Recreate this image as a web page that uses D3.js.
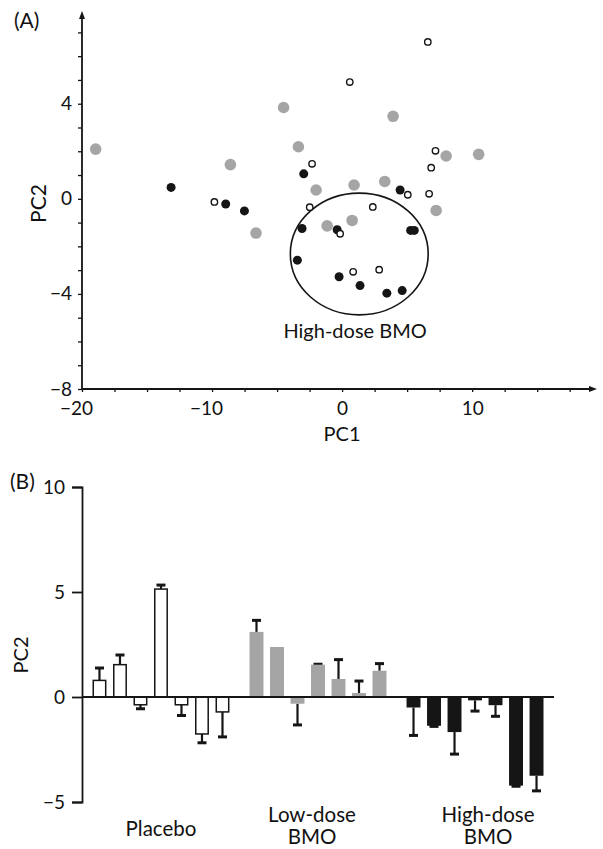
<!DOCTYPE html>
<html><head><meta charset="utf-8">
<script src="https://cdn.jsdelivr.net/npm/d3@7"></script>
<style>
body{margin:0;background:#fff}
svg{display:block}
text{font-family:Lato,"Open Sans",sans-serif;fill:#111}
</style>
</head><body>
<svg id="c" width="603" height="849"></svg>
<script>
// ---------- Panel A data (PCA scores) ----------
const placeboPC1 = [6.59, 0.59, -2.31, 5.05, 7.18, 6.85, 6.69, -2.49, 2.36, -0.15, 0.85, 2.85, -9.82];
const placeboPC2 = [6.6, 4.91, 1.47, 0.17, 2.02, 1.31, 0.21, -0.35, -0.34, -1.47, -3.07, -2.98, -0.13];
const lowPC1 = [-18.95, -8.59, -6.62, -4.5, 3.92, -3.36, -2.0, 0.92, 3.28, 8.0, 10.5, 7.23, -1.15, 0.77];
const lowPC2 = [2.09, 1.44, -1.44, 3.84, 3.47, 2.19, 0.37, 0.58, 0.73, 1.8, 1.87, -0.49, -1.14, -0.91];
const highPC1 = [-13.15, -8.95, -7.51, -2.95, 4.46, -3.08, -0.38, 5.27, 5.55, -3.44, -0.23, 1.38, 3.44, 4.62];
const highPC2 = [0.48, -0.22, -0.51, 1.05, 0.37, -1.25, -1.3, -1.33, -1.33, -2.58, -3.28, -3.65, -3.97, -3.86];
const ellipseCenter = [1.32, -2.32];
const ellipseRadii = [5.3, 2.56];
const xTicksA = [-20, -10, 0, 10];
const yTicksA = [-8, -4, 0, 4];

// ---------- Panel B data (PC2 per subject) ----------
const groups = ["Placebo", "Low-dose BMO", "High-dose BMO"];
const placeboBars = [0.79, 1.54, -0.37, 5.14, -0.37, -1.76, -0.71];
const placeboErr  = [0.59, 0.46, 0.19, 0.19, 0.51, 0.42, 1.19];
const lowBars = [3.1, 2.38, -0.32, 1.54, 0.86, 0.19, 1.25];
const lowErr  = [0.55, 0, 1.01, 0.02, 0.92, 0.57, 0.34];
const highBars = [-0.5, -1.37, -1.67, -0.16, -0.39, -4.22, -3.75];
const highErr  = [1.33, 0.03, 1.05, 0.51, 0.53, 0.03, 0.72];
const yTicksB = [-5, 0, 5, 10];

const INK = "#151515", GRAY = "#a5a5a5";
const svg = d3.select("#c");
const fmt = d3.format("");

// ================= Panel A =================
const xA = d3.scaleLinear().domain([-20, 19.6]).range([82, 597]);
const yA = d3.scaleLinear().domain([-8, 7.9]).range([389, 11]);
const gA = svg.append("g");

// axes
const xAxA = d3.axisBottom(xA).tickValues(d3.range(-20, 18, 2.5)).tickSize(3).tickPadding(10)
  .tickFormat(d => xTicksA.includes(d) ? fmt(d) : "");
const gx = gA.append("g").attr("transform", `translate(0,${yA(-8)})`).call(xAxA);
gx.select(".domain").remove();
gx.selectAll("line").attr("stroke", INK).attr("stroke-width", 1.3);
gx.selectAll("text").attr("font-size", 19).attr("fill", INK).attr("dx", d => d < 0 ? -6 : 0);

const yAxA = d3.axisLeft(yA).tickValues(d3.range(-8, 8)).tickSize(4).tickPadding(6)
  .tickFormat(d => yTicksA.includes(d) ? fmt(d) : "");
const gy = gA.append("g").attr("transform", `translate(${xA(-20)},0)`).call(yAxA);
gy.select(".domain").remove();
gy.selectAll("line").attr("stroke", INK).attr("stroke-width", 1.3);
gy.selectAll("text").attr("font-size", 19).attr("fill", INK);

// axis lines with arrowheads
gA.append("line").attr("x1", xA(-20)).attr("x2", xA(19.6) - 4).attr("y1", yA(-8)).attr("y2", yA(-8))
  .attr("stroke", INK).attr("stroke-width", 1.8);
gA.append("path").attr("d", `M${xA(19.6)},${yA(-8)} l-8,-3 l0,6 z`).attr("fill", INK);
gA.append("line").attr("x1", xA(-20)).attr("x2", xA(-20)).attr("y1", yA(-8)).attr("y2", yA(7.9) + 4)
  .attr("stroke", INK).attr("stroke-width", 1.8);
gA.append("path").attr("d", `M${xA(-20)},${yA(7.9)} l-3,8 l6,0 z`).attr("fill", INK);

// ellipse
gA.append("ellipse")
  .attr("cx", xA(ellipseCenter[0])).attr("cy", yA(ellipseCenter[1]))
  .attr("rx", xA(ellipseRadii[0]) - xA(0)).attr("ry", yA(0) - yA(ellipseRadii[1]))
  .attr("fill", "none").attr("stroke", INK).attr("stroke-width", 1.6);
gA.append("text").attr("x", xA(1.0)).attr("y", yA(-5.85)).attr("text-anchor", "middle")
  .attr("font-size", 20).text("High-dose BMO");

// points
gA.append("g").selectAll("circle").data(d3.zip(lowPC1, lowPC2)).join("circle")
  .attr("cx", d => xA(d[0])).attr("cy", d => yA(d[1])).attr("r", 5.8).attr("fill", GRAY);
gA.append("g").selectAll("circle").data(d3.zip(highPC1, highPC2)).join("circle")
  .attr("cx", d => xA(d[0])).attr("cy", d => yA(d[1])).attr("r", 4.5).attr("fill", INK);
gA.append("g").selectAll("circle").data(d3.zip(placeboPC1, placeboPC2)).join("circle")
  .attr("cx", d => xA(d[0])).attr("cy", d => yA(d[1])).attr("r", 3.2)
  .attr("fill", "#fff").attr("stroke", INK).attr("stroke-width", 1.4);

// labels
gA.append("text").attr("x", 14).attr("y", 28).attr("font-size", 21).text("(A)");
gA.append("text").attr("transform", `translate(46,${yA(-0.2)}) rotate(-90)`).attr("text-anchor", "middle")
  .attr("font-size", 21).text("PC2");
gA.append("text").attr("x", xA(0)).attr("y", 441).attr("text-anchor", "middle")
  .attr("font-size", 20).text("PC1");

// ================= Panel B =================
const yB = d3.scaleLinear().domain([-5, 10]).range([802, 487]);
const x0 = d3.scaleBand().domain(groups).range([82, 554]).paddingInner(0.086).paddingOuter(0.046);
const x1 = d3.scaleBand().domain(d3.range(7)).range([0, x0.bandwidth()]).paddingInner(0.32).paddingOuter(0.16);
const gB = svg.append("g");

const yAxB = d3.axisLeft(yB).tickValues(yTicksB).tickSize(10).tickPadding(7).tickFormat(fmt);
const gyB = gB.append("g").attr("transform", `translate(82,0)`).call(yAxB);
gyB.select(".domain").attr("stroke", INK).attr("stroke-width", 1.8);
gyB.selectAll("line").attr("stroke", INK).attr("stroke-width", 1.8);
gyB.selectAll("text").attr("font-size", 19).attr("fill", INK);

const series = [
  {g: groups[0], vals: placeboBars, err: placeboErr, fill: "#fff", stroke: INK},
  {g: groups[1], vals: lowBars, err: lowErr, fill: GRAY, stroke: "none"},
  {g: groups[2], vals: highBars, err: highErr, fill: INK, stroke: "none"}
];
series.forEach(s => {
  const gg = gB.append("g").attr("transform", `translate(${x0(s.g)},0)`);
  const data = s.vals.map((v, i) => ({i, v, e: s.err[i]}));
  // error bars
  const eb = gg.append("g").selectAll("g").data(data).join("g");
  eb.append("line")
    .attr("x1", d => x1(d.i) + x1.bandwidth() / 2).attr("x2", d => x1(d.i) + x1.bandwidth() / 2)
    .attr("y1", d => yB(d.v)).attr("y2", d => yB(d.v + Math.sign(d.v) * d.e))
    .attr("stroke", INK).attr("stroke-width", 2.2);
  eb.filter(d => d.e > 0).append("line")
    .attr("x1", d => x1(d.i) + x1.bandwidth() / 2 - 4.5).attr("x2", d => x1(d.i) + x1.bandwidth() / 2 + 4.5)
    .attr("y1", d => yB(d.v + Math.sign(d.v) * d.e)).attr("y2", d => yB(d.v + Math.sign(d.v) * d.e))
    .attr("stroke", INK).attr("stroke-width", 3);
  // bars
  gg.append("g").selectAll("rect").data(data).join("rect")
    .attr("x", d => x1(d.i) + (s.stroke === "none" ? 0 : 0.75))
    .attr("width", x1.bandwidth() - (s.stroke === "none" ? 0 : 1.5))
    .attr("y", d => Math.min(yB(d.v), yB(0)))
    .attr("height", d => Math.abs(yB(d.v) - yB(0)))
    .attr("fill", s.fill).attr("stroke", s.stroke).attr("stroke-width", 1.5);
});

// zero line
gB.append("line").attr("x1", 82).attr("x2", 554).attr("y1", yB(0)).attr("y2", yB(0))
  .attr("stroke", INK).attr("stroke-width", 2);

// labels
gB.append("text").attr("x", 10).attr("y", 489).attr("font-size", 21).text("(B)");
gB.append("text").attr("transform", `translate(28,${yB(2.0)}) rotate(-90)`).attr("text-anchor", "middle")
  .attr("font-size", 20).text("PC2");
const glab = [
  {g: groups[0], lines: ["Placebo"], dx: 0, y: 836},
  {g: groups[1], lines: ["Low-dose", "BMO"], dx: -6, y: 822},
  {g: groups[2], lines: ["High-dose", "BMO"], dx: 13, y: 822}
];
glab.forEach(l => {
  const t = gB.append("text").attr("text-anchor", "middle").attr("font-size", 20.5);
  l.lines.forEach((ln, k) => {
    t.append("tspan").attr("x", x0(l.g) + x0.bandwidth() / 2 + l.dx).attr("y", l.y + k * 22).text(ln);
  });
});
</script>
</body></html>
